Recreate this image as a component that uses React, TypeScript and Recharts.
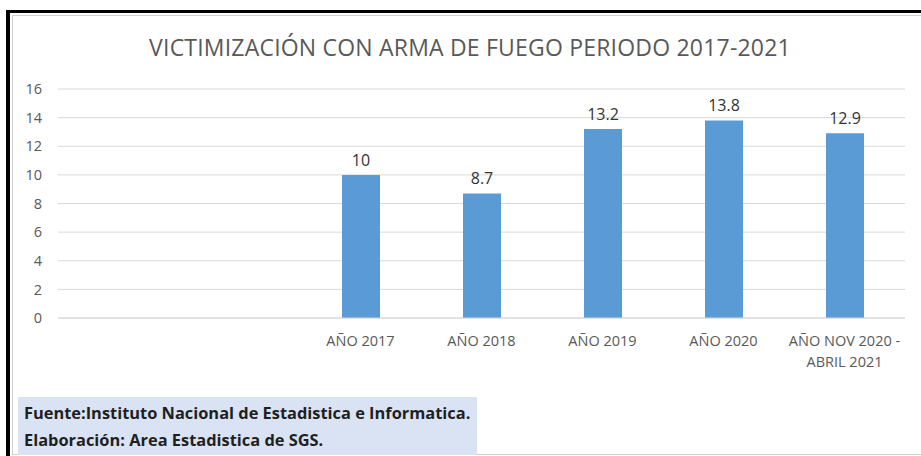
import React from 'react';
import { BarChart, Bar, XAxis, YAxis, CartesianGrid, LabelList } from 'recharts';

const categories = ['', '', 'AÑO 2017', 'AÑO 2018', 'AÑO 2019', 'AÑO 2020', 'AÑO NOV 2020 -|ABRIL 2021'];
const values: (number | null)[] = [null, null, 10, 8.7, 13.2, 13.8, 12.9];
const yTicks = [0, 2, 4, 6, 8, 10, 12, 14, 16];

const data = categories.map((c, i) => ({ name: c, value: values[i] }));

const FONT = '"Open Sans", "Noto Sans", sans-serif';

const XTick = (props: any) => {
  const { x, y, payload } = props;
  const lines = String(payload.value).split('|');
  return (
    <text x={x} y={y} textAnchor="middle" fill="#595959" fontSize={14.5} fontFamily={FONT}>
      {lines.map((l, i) => (
        <tspan key={i} x={x} dy={i === 0 ? 20 : 21}>{l}</tspan>
      ))}
    </text>
  );
};

export default function App() {
  return (
    <div style={{ position: 'fixed', left: 0, top: 0, width: 921, height: 456, background: '#fff', overflow: 'hidden' }}>
      <div style={{ position: 'absolute', left: 6, top: 10, width: 915, height: 446, borderTop: '3px solid #000', borderLeft: '4px solid #000', boxSizing: 'border-box' }} />
      <div style={{ position: 'absolute', left: 12, top: 15, width: 909, height: 440, borderTop: '1px solid #d0d0d0', borderLeft: '1px solid #d0d0d0', borderBottom: '1px solid #d0d0d0', boxSizing: 'border-box' }} />
      <div style={{ position: 'absolute', left: 0, top: 32, width: 940, textAlign: 'center', fontFamily: FONT, fontSize: 23, lineHeight: '31px', color: '#595959', letterSpacing: 0.2 }}>
        VICTIMIZACIÓN CON ARMA DE FUEGO PERIODO 2017-2021
      </div>
      <div style={{ position: 'absolute', left: 0, top: 0 }}>
        <BarChart width={921} height={456} data={data} margin={{ top: 89, right: 16, bottom: 88, left: 0 }}>
          <CartesianGrid vertical={false} stroke="#d9d9d9" />
          <XAxis dataKey="name" axisLine={{ stroke: '#d9d9d9' }} tickLine={false} height={50} interval={0} tick={<XTick />} />
          <YAxis domain={[0, 16]} ticks={yTicks} width={58} axisLine={false} tickLine={false} tickSize={0} tickMargin={16}
            tick={{ fill: '#595959', fontSize: 14.5, fontFamily: FONT }} />
          <Bar dataKey="value" fill="#5b9bd5" barSize={38} isAnimationActive={false}>
            <LabelList dataKey="value" position="top" offset={9} fill="#333333" fontSize={16} fontFamily={FONT} />
          </Bar>
        </BarChart>
      </div>
      <div style={{ position: 'absolute', left: 18, top: 397, width: 459, height: 58, background: '#dae3f3', fontFamily: FONT, fontWeight: 700, fontSize: 16.4, color: '#1f1f1f', lineHeight: '27px', paddingLeft: 6, paddingTop: 2, boxSizing: 'border-box', whiteSpace: 'nowrap' }}>
        <div>Fuente:Instituto Nacional de Estadistica e Informatica.</div>
        <div>Elaboración: Area Estadistica de SGS.</div>
      </div>
    </div>
  );
}
